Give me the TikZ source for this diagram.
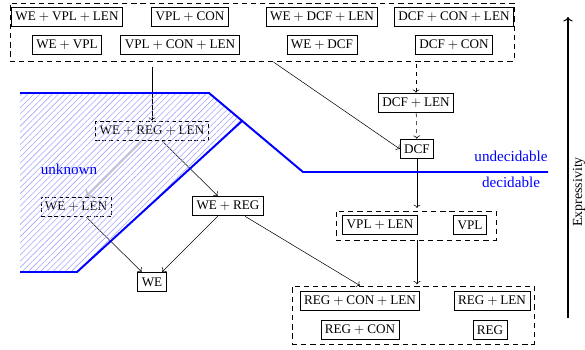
\documentclass[tikz,border=0pt]{standalone}
\usepackage{fontspec}
\setmainfont{Liberation Serif}
\usetikzlibrary{arrows.meta,calc,fit,patterns.meta}
\newcommand{\pl}{${}+{}$}

\begin{document}
\begin{tikzpicture}[x=0.76pt,y=-0.76pt,>=To,
   c/.style={draw,semithick,minimum height=15pt,inner sep=3pt},
   cd/.style={c,dash pattern=on 3pt off 2pt},
   grp/.style={draw,semithick,dash pattern=on 4pt off 3pt,inner sep=0pt},
   bnd/.style={blue,line width=1.5pt},
   lbl/.style={blue,font=\fontsize{11.5}{14}\selectfont}]
  \useasboundingbox (0,0) rectangle (585,349);
  % top group (undecidable)
  \node[c] (wvl) at (67,17)  {WE\pl VPL\pl LEN};
  \node[c] (vc)  at (190,17) {VPL\pl CON};
  \node[c] (wdl) at (322,17) {WE\pl DCF\pl LEN};
  \node[c] (dcl) at (454,17) {DCF\pl CON\pl LEN};
  \node[c] (wv)  at (67,45)  {WE\pl VPL};
  \node[c] (vcl) at (180,45) {VPL\pl CON\pl LEN};
  \node[c] (wd)  at (322,45) {WE\pl DCF};
  \node[c] (dc)  at (454,45) {DCF\pl CON};
  \node[grp,fit={(10,3) (514,61)}] (top) {};
  % context-free side
  \node[c] (dl)  at (416,103) {DCF\pl LEN};
  \node[c] (dcf) at (417,149) {DCF};
  \node[c] (vl)  at (380,225) {VPL\pl LEN};
  \node[c] (vpl) at (470,225) {VPL};
  \node[grp,fit={(336,211) (496,240)}] (vgrp) {};
  \node[c] (rcl) at (360,301) {REG\pl CON\pl LEN};
  \node[c] (rl)  at (492,301) {REG\pl LEN};
  \node[c] (rc)  at (360,330) {REG\pl CON};
  \node[c] (reg) at (490,330) {REG};
  \node[grp,fit={(292,286) (534,344)}] (rgrp) {};
  % word equations
  \node[cd] (wrl) at (152,131) {WE\pl REG\pl LEN};
  \node[cd] (wl)  at (76,207)  {WE\pl LEN};
  \node[c]  (wr)  at (228,206) {WE\pl REG};
  \node[c]  (we)  at (152,282) {WE};
  % --- arrows ---
  \draw[->,shorten <=4pt] (top.south -| wrl) -- (wrl);
  \draw[->,dashed,shorten <=2pt] (top.south -| dl) -- (dl);
  \draw[->,dashed] (dl) -- (dcf);
  \draw[->,shorten <=1pt] ([xshift=8pt]top.south) -- (dcf.west);
  \draw[->,shorten >=2pt] (dcf) -- (dcf |- vgrp.north);
  \draw[->,shorten >=1pt] (vgrp.south -| dcf) -- (rgrp.north -| dcf);
  \draw[->] (wrl) -- (wr);
  \draw[->,gray!45,line width=1.2pt] (wrl) -- (wl);
  \draw[->] (wl) -- (we);
  \draw[->] (wr) -- (we);
  \draw[->] (wr) -- (rgrp.north -| rcl);
  % decidability borders
  \fill[pattern={Lines[angle=45,distance=3.3pt,line width=0.45pt]},pattern color=blue!35]
    (20,93) -- (209,93) -- (242,121) -- (77,272) -- (20,272) -- cycle;
  \draw[bnd] (20,93) -- (209,93) -- (303,172) -- (548,172);
  \draw[bnd] (242,121) -- (77,272) -- (20,272);
  \node[lbl] (unk) at (69,169)  {unknown};
  \node[lbl] (und) at (511,156) {undecidable};
  \node[lbl] (dec) at (511,182) {decidable};
  % expressivity axis
  \coordinate (lo) at (568,318);
  \coordinate (hi) at (568,17);
  \draw[->,thick] (lo) -- (hi);
  \node[rotate=90,font=\fontsize{10.6}{13}\selectfont] (expr) at (579,192) {Expressivity};
\end{tikzpicture}
\end{document}
